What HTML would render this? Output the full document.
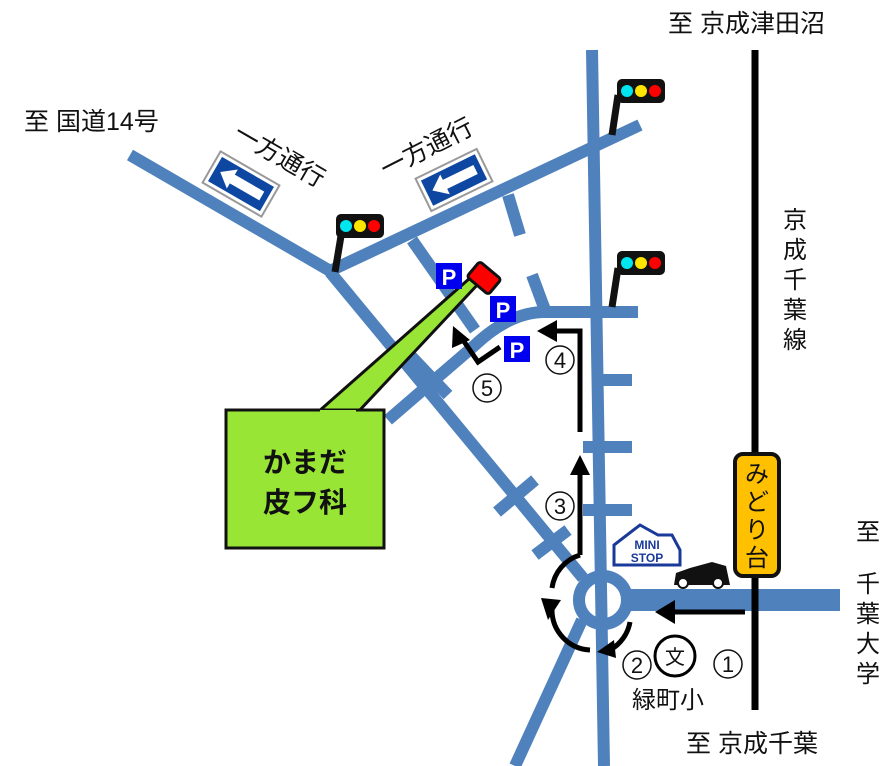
<!DOCTYPE html>
<html><head><meta charset="utf-8"><style>
html,body{margin:0;padding:0;background:#fff;}
svg{display:block;}
text{font-family:"Liberation Sans","Noto Sans CJK JP",sans-serif;fill:#111;}
</style></head><body>
<svg width="894" height="766" viewBox="0 0 894 766" xmlns="http://www.w3.org/2000/svg">
<defs>
<g id="sig">
<rect x="0" y="0" width="48" height="24" rx="5" fill="#111"/>
<circle cx="10" cy="12" r="6" fill="#00e5ee"/><circle cx="24" cy="12" r="6" fill="#ffe600"/><circle cx="38" cy="12" r="6" fill="#ff0000"/>
</g>
<g id="ow">
<rect x="-34" y="-18" width="68" height="36" fill="#fff" stroke="#999" stroke-width="2"/>
<rect x="-30" y="-14" width="60" height="28" fill="#0d47a1"/>
<polygon points="-24,0 -10,-11 -10,-5 24,-5 24,5 -10,5 -10,11" fill="#fff"/>
</g>
<g id="pk"><rect x="0" y="0" width="26" height="26" fill="#0000ee"/><text x="13" y="22" font-size="22" font-weight="bold" text-anchor="middle" style="fill:#fff">P</text></g>
<circle id="cn" r="14" fill="#fff" stroke="#111" stroke-width="1.5"/>
</defs>
<g stroke="#4f81bd" stroke-width="12" fill="none" stroke-linecap="butt">
<line x1="130" y1="155" x2="332" y2="272"/>
<line x1="332" y1="270" x2="640" y2="125"/>
<line x1="330" y1="272" x2="583" y2="578"/>
<line x1="592" y1="50" x2="604" y2="766"/>
<line x1="582" y1="620" x2="515" y2="766"/>
<line x1="412" y1="240" x2="475" y2="330"/>
<path d="M388,420 L475,345 Q510,312 545,312 L638,312"/>
<line x1="508" y1="195" x2="520" y2="235"/>
<line x1="532" y1="275" x2="545" y2="310"/>
<line x1="603" y1="380" x2="632" y2="380"/>
<line x1="583" y1="447" x2="632" y2="447"/>
<line x1="583" y1="510" x2="632" y2="510"/>
<line x1="497" y1="512" x2="535" y2="480"/>
<line x1="535" y1="555" x2="568" y2="530"/>
<line x1="410" y1="355" x2="448" y2="395"/>
<circle cx="603" cy="600" r="24"/>
</g>
<rect x="628" y="589" width="212" height="22" fill="#4f81bd"/>
<line x1="755" y1="50" x2="755" y2="710" stroke="#000" stroke-width="7"/>
<rect x="735" y="454" width="44" height="122" rx="8" fill="#ffc000" stroke="#111" stroke-width="4"/>
<text font-size="24" text-anchor="middle"><tspan x="757" y="482">み</tspan><tspan x="757" y="510">ど</tspan><tspan x="757" y="538">り</tspan><tspan x="757" y="566">台</tspan></text>
<line x1="335" y1="272" x2="342" y2="230" stroke="#111" stroke-width="7"/><use href="#sig" x="336" y="214"/>
<line x1="612" y1="135" x2="618" y2="95" stroke="#111" stroke-width="7"/><use href="#sig" x="617" y="79"/>
<line x1="612" y1="307" x2="618" y2="268" stroke="#111" stroke-width="7"/><use href="#sig" x="617" y="251"/>
<use href="#ow" transform="translate(241,184) rotate(30)"/>
<use href="#ow" transform="translate(454,180) rotate(-26)"/>
<text font-size="25" transform="translate(232,138) rotate(30)">一方通行</text>
<text font-size="25" transform="translate(386,178) rotate(-27)">一方通行</text>
<polygon points="318,412 358,412 480,282 470,278" fill="#99e536" stroke="#111" stroke-width="3"/>
<rect x="226" y="410" width="158" height="138" fill="#99e536" stroke="#111" stroke-width="3"/>
<line x1="320" y1="412" x2="356" y2="412" stroke="#99e536" stroke-width="4"/>
<text font-size="28" font-weight="bold" text-anchor="middle"><tspan x="305" y="472">かまだ</tspan><tspan x="305" y="512">皮フ科</tspan></text>
<g transform="translate(484,278) rotate(40)"><rect x="-14" y="-10" width="28" height="20" rx="3" fill="#ff0000" stroke="#111" stroke-width="3"/></g>
<use href="#pk" x="436" y="263"/><use href="#pk" x="490" y="296"/><use href="#pk" x="504" y="336"/>
<g stroke="#000" stroke-width="5" fill="none">
<line x1="745" y1="612" x2="670" y2="612"/>
<line x1="580" y1="555" x2="580" y2="472"/>
<polyline points="580,432 580,331 555,331"/>
<polyline points="500,347 478,362 463,340"/>
<path d="M580,555 A40,40 0 0,0 552,588"/>
<path d="M552,610 A40,40 0 0,0 590,650"/>
<path d="M630,622 A40,40 0 0,1 610,650"/>
</g>
<g fill="#000">
<polygon points="655,612 675,600 675,624"/>
<polygon points="580,455 570,475 590,475"/>
<polygon points="537,331 557,320 557,342"/>
<polygon points="453,326 452,348 470,340"/>
<polygon points="548,620 541,598 561,600"/>
<polygon points="597,652 614,640 616,658"/>
</g>
<use href="#cn" x="560" y="360"/><use href="#cn" x="487" y="388"/><use href="#cn" x="560" y="506"/><use href="#cn" x="728" y="664"/><use href="#cn" x="637" y="665"/>
<text font-size="22" text-anchor="middle">
<tspan x="560" y="368">4</tspan><tspan x="487" y="396">5</tspan><tspan x="560" y="514">3</tspan><tspan x="728" y="672">1</tspan><tspan x="637" y="673">2</tspan>
</text>
<circle cx="675" cy="656" r="20" fill="#fff" stroke="#000" stroke-width="3"/>
<text x="675" y="664" font-size="20" text-anchor="middle">文</text>
<text x="668" y="708" font-size="24" text-anchor="middle">緑町小</text>
<path d="M614,565 L614,545 L640,525 L658,535 L672,535 L680,550 L680,565 Z" fill="#fff" stroke="#1a3a9a" stroke-width="3"/>
<text x="647" y="549" font-size="12" font-weight="bold" text-anchor="middle" style="fill:#1a3a9a">MINI</text>
<text x="647" y="562" font-size="12" font-weight="bold" text-anchor="middle" style="fill:#1a3a9a">STOP</text>
<path d="M674,585 L676,573 L690,568 L712,562 L726,566 L730,585 Z" fill="#111"/>
<circle cx="683" cy="583" r="5" fill="#fff" stroke="#111" stroke-width="2"/><circle cx="718" cy="583" r="5" fill="#fff" stroke="#111" stroke-width="2"/>
<text x="24" y="130" font-size="25">至 国道14号</text>
<text x="668" y="32" font-size="25">至 京成津田沼</text>
<text x="686" y="752" font-size="25">至 京成千葉</text>
<text font-size="24" text-anchor="middle"><tspan x="795" y="228">京</tspan><tspan x="795" y="258">成</tspan><tspan x="795" y="288">千</tspan><tspan x="795" y="318">葉</tspan><tspan x="795" y="348">線</tspan></text>
<text font-size="24" text-anchor="middle"><tspan x="868" y="540">至</tspan><tspan x="868" y="592">千</tspan><tspan x="868" y="622">葉</tspan><tspan x="868" y="652">大</tspan><tspan x="868" y="682">学</tspan></text>
</svg>
</body></html>
